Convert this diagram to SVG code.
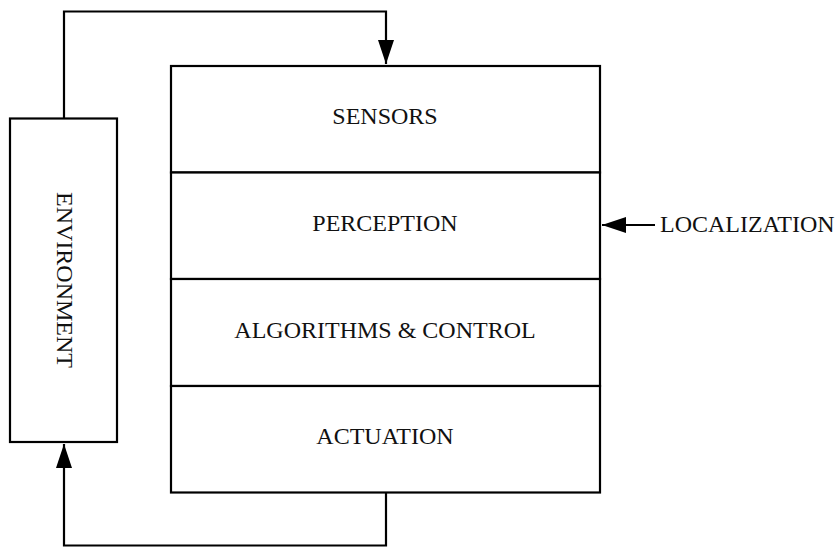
<svg xmlns="http://www.w3.org/2000/svg" width="837" height="548" viewBox="0 0 837 548">
<style>
.box{fill:#fff;stroke:#000;stroke-width:2.2}
.ln{fill:none;stroke:#000;stroke-width:2.2}
.t{font-family:"Liberation Serif","Times New Roman",serif;font-size:24px;fill:#111;text-anchor:middle}
</style>
<defs>
<marker id="ah" markerWidth="24" markerHeight="16" refX="24" refY="8" orient="auto" markerUnits="userSpaceOnUse">
<path d="M0,0 L24,8 L0,16 Z" fill="#000"/>
</marker>
</defs>
<rect width="837" height="548" fill="#fff"/>
<g id="connectors">
<polyline class="ln" points="64,118 64,11.5 386,11.5 386,64" marker-end="url(#ah)"/>
<polyline class="ln" points="386,492 386,545.5 64,545.5 64,444" marker-end="url(#ah)"/>
<line class="ln" x1="655" y1="225" x2="602" y2="225" marker-end="url(#ah)"/>
</g>
<g id="environment">
<rect class="box" x="10" y="118.5" width="107" height="323.5"/>
<text class="t" transform="translate(57,280) rotate(90)">ENVIRONMENT</text>
</g>
<g id="sensors">
<rect class="box" x="171" y="66" width="429" height="106.5"/>
<text class="t" x="385" y="124">SENSORS</text>
</g>
<g id="perception">
<rect class="box" x="171" y="172.5" width="429" height="106.5"/>
<text class="t" x="385" y="231">PERCEPTION</text>
</g>
<g id="algorithms">
<rect class="box" x="171" y="279" width="429" height="107"/>
<text class="t" x="385" y="338">ALGORITHMS &amp; CONTROL</text>
</g>
<g id="actuation">
<rect class="box" x="171" y="386" width="429" height="106.5"/>
<text class="t" x="385" y="444">ACTUATION</text>
</g>
<g id="localization">
<text class="t" x="660" y="232" style="text-anchor:start">LOCALIZATION</text>
</g>
</svg>
